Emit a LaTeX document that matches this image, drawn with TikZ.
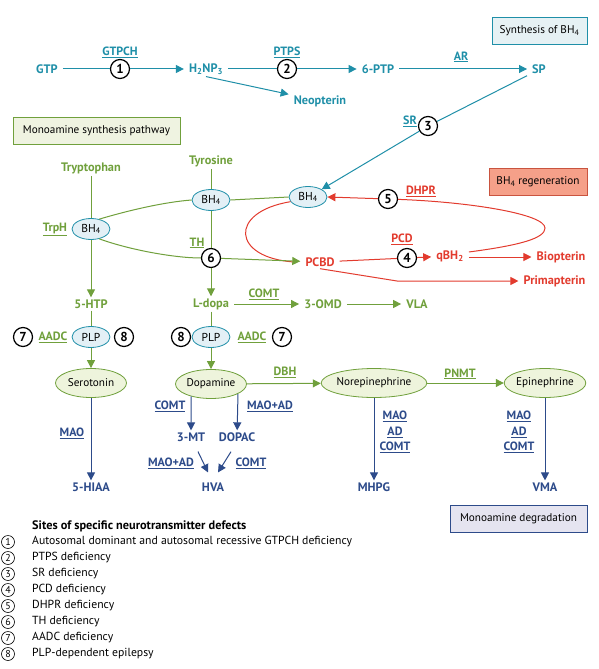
\documentclass[tikz,border=0pt]{standalone}
\usepackage{fontspec}
\setmainfont{PT Sans}
\usetikzlibrary{arrows.meta,shapes.geometric}

\definecolor{synteal}{HTML}{1F8FA8}
\definecolor{monogreen}{HTML}{70A03C}
\definecolor{regred}{HTML}{E23B2E}
\definecolor{degblue}{HTML}{2D4B8A}
\definecolor{cofill}{HTML}{E3F0F6}
\definecolor{aminefill}{HTML}{EEF4DC}
\definecolor{synbox}{HTML}{E6F1F4}
\definecolor{monobox}{HTML}{EFF3E1}
\definecolor{regbox}{HTML}{F5A089}
\definecolor{regedge}{HTML}{C9543F}
\definecolor{degbox}{HTML}{E5E4F0}

\tikzset{
  lbl/.style={font=\fontsize{12.3}{14}\selectfont\bfseries,inner xsep=5pt,inner ysep=2pt},
  enz/.style={font=\fontsize{12}{14}\selectfont\bfseries,inner sep=1pt,align=center},
  site/.style={circle,draw,fill=white,line width=1.2pt,inner sep=0pt,minimum size=19pt,
    font=\fontsize{13}{13}\selectfont\bfseries},
  legsite/.style={circle,draw,line width=0.6pt,inner sep=0pt,minimum size=13pt,
    font=\fontsize{10}{10}\selectfont},
  legtext/.style={anchor=west,inner sep=0pt,font=\fontsize{11.7}{13}\selectfont},
  cof/.style={ellipse,draw=synteal,fill=cofill,line width=0.8pt,inner sep=0pt,
    minimum width=38pt,minimum height=21pt,font=\fontsize{11.5}{13}\selectfont},
  amine/.style={ellipse,draw=monogreen,fill=aminefill,line width=0.8pt,inner sep=0pt,
    minimum height=29pt,font=\fontsize{11.2}{13}\selectfont},
  tag/.style={draw,line width=0.8pt,inner sep=0pt,minimum height=27pt,
    font=\fontsize{11.2}{13}\selectfont},
  arrowtip/.style={-{Triangle[length=8pt,width=8pt]}},
  syn/.style={synteal,line width=1pt},
  mono/.style={monogreen,line width=1pt},
  reg/.style={regred,line width=1pt},
  deg/.style={degblue,line width=1pt},
}

\begin{document}
\begin{tikzpicture}[x=1pt,y=-1pt]
\useasboundingbox (0,0) rectangle (598,669);

% synthesis of BH4
\node[tag,draw=synteal,fill=synbox,minimum width=95pt] (synbx) at (539.5,30.5) {Synthesis of BH\textsubscript{4}};
\node[lbl,text=synteal] (gtp) at (47,69) {GTP};
\node[lbl,text=synteal] (h2np3) at (206,69) {H\textsubscript{2}NP\textsubscript{3}};
\node[lbl,text=synteal] (ptp) at (378,69) {6-PTP};
\node[lbl,text=synteal] (sp) at (539,69) {SP};
\node[lbl,text=synteal] (neo) at (320,101) {Neopterin};
\node[site] (c1) at (120,69) {1};
\node[site] (c2) at (287,69) {2};
\node[site] (c3) at (428,126) {3};
\node[enz,text=synteal] (gtpch) at (120,52) {\underline{GTPCH}};
\node[enz,text=synteal] (ptps) at (287,52) {\underline{PTPS}};
\node[enz,text=synteal] (ar) at (461,57) {\underline{AR}};
\node[enz,text=synteal] (sr) at (410,121) {\underline{SR}};
\node[cof] (bhc) at (308,197) {BH\textsubscript{4}};
\draw[syn,arrowtip] (gtp) -- (c1) -- (h2np3);
\draw[syn,arrowtip] (h2np3) -- (c2) -- (ptp);
\draw[syn,arrowtip] (ptp) -- (sp);
\draw[syn,arrowtip] (h2np3.south) -- (neo);
\draw[syn,arrowtip] (sp.south west) -- (c3) -- (bhc.north east);

% monoamine synthesis
\node[tag,draw=monogreen,fill=monobox,minimum width=167pt] (monobx) at (96.5,130.5) {Monoamine synthesis pathway};
\node[lbl,text=monogreen] (trp) at (91,168) {Tryptophan};
\node[lbl,text=monogreen] (tyr) at (211,161) {Tyrosine};
\node[cof] (bhtrp) at (91,229) {BH\textsubscript{4}};
\node[cof] (bhtyr) at (211,200) {BH\textsubscript{4}};
\node[enz,text=monogreen] (trph) at (55,229) {\underline{TrpH}};
\node[enz,text=monogreen] (th) at (197,243) {\underline{TH}};
\node[site] (c6) at (211,258) {6};
\node[lbl,text=monogreen] (htp) at (91,304) {5-HTP};
\node[lbl,text=monogreen] (ldopa) at (211,304) {L-dopa};
\node[lbl,text=monogreen] (omd) at (323,304) {3-OMD};
\node[lbl,text=monogreen] (vla) at (417,304) {VLA};
\node[enz,text=monogreen] (comtg) at (264,294) {\underline{COMT}};
\node[cof] (plptrp) at (91,337) {PLP};
\node[cof] (plptyr) at (211,337) {PLP};
\node[site] (c7a) at (23,337) {7};
\node[enz,text=monogreen] (aadca) at (53,337) {\underline{AADC}};
\node[site] (c8a) at (124,337) {8};
\node[site] (c8b) at (181,337) {8};
\node[enz,text=monogreen] (aadcb) at (252,337) {\underline{AADC}};
\node[site] (c7b) at (282,337) {7};
\node[amine,minimum width=71pt] (ser) at (91,383) {Serotonin};
\node[amine,minimum width=71pt] (dopa) at (211,384) {Dopamine};
\node[amine,minimum width=91pt] (ne) at (374,383) {Norepinephrine};
\node[amine,minimum width=73pt] (epi) at (545,383) {Epinephrine};
\node[enz,text=monogreen] (dbh) at (285,372) {\underline{DBH}};
\node[enz,text=monogreen] (pnmt) at (460,374) {\underline{PNMT}};
\draw[mono] (trp) -- (bhtrp);
\draw[mono,arrowtip] (bhtrp) -- (htp);
\draw[mono] (htp) -- (plptrp);
\draw[mono,arrowtip] (plptrp) -- (ser);
\draw[mono] (tyr) -- (bhtyr);
\draw[mono] (bhtyr) -- (c6);
\draw[mono,arrowtip] (c6) -- (ldopa);
\draw[mono] (ldopa) -- (plptyr);
\draw[mono,arrowtip] (plptyr) -- (dopa);
\draw[mono,arrowtip] (ldopa) -- (omd);
\draw[mono,arrowtip] (omd) -- (vla);
\draw[mono,arrowtip] (dopa) -- (ne);
\draw[mono,arrowtip] (ne) -- (epi);
\draw[mono] (bhtrp.50) .. controls (130,210) and (165,202) .. (bhtyr.west);
\draw[mono] (bhtyr.east) -- (bhc.west);

% BH4 regeneration
\node[tag,draw=regedge,fill=regbox,minimum width=98pt] (regbx) at (538,181.5) {BH\textsubscript{4} regeneration};
\node[lbl,text=regred] (pcbd) at (320,262) {PCBD};
\node[lbl,text=regred] (qbh) at (450,256) {qBH\textsubscript{2}};
\node[lbl,text=regred] (biop) at (561,257) {Biopterin};
\node[lbl,text=regred] (prim) at (554.5,281) {Primapterin};
\node[site] (c4) at (407,258) {4};
\node[site] (c5) at (388,199) {5};
\node[enz,text=regred] (pcd) at (402,239) {\underline{PCD}};
\node[enz,text=regred] (dhpr) at (421,191) {\underline{DHPR}};
\coordinate (dhprbend) at (545,228);
\coordinate (primbend) at (397,281);
\draw[reg] (bhc.195) .. controls (228,212) and (232,258) .. ([xshift=-6pt]pcbd.west);
\draw[mono,arrowtip] (bhtrp.-50) .. controls (130,250) and (175,258) .. (c6) -- (pcbd);
\draw[reg,arrowtip] (pcbd) -- (c4) -- (qbh);
\draw[reg,arrowtip] ([yshift=-1pt]qbh.east) -- (biop);
\draw[reg,arrowtip] (pcbd.south) -- (primbend) -- (prim);
\draw[reg,arrowtip] ([yshift=4pt]qbh.east) .. controls (522,245) and (545,238) .. (dhprbend)
  .. controls (545,214) and (470,202) .. (c5) -- (bhc.east);

% monoamine degradation
\node[tag,draw=degblue,fill=degbox,minimum width=137pt] (degbx) at (518.5,519) {Monoamine degradation};
\node[lbl,text=degblue] (hiaa) at (91,487) {5-HIAA};
\node[lbl,text=degblue] (mt3) at (191,437) {3-MT};
\node[lbl,text=degblue] (dopac) at (237,437) {DOPAC};
\node[lbl,text=degblue] (hva) at (213,487) {HVA};
\node[lbl,text=degblue] (mhpg) at (374,487) {MHPG};
\node[lbl,text=degblue] (vma) at (545,487) {VMA};
\node[enz,text=degblue] (mao) at (72,433) {\underline{MAO}};
\node[enz,text=degblue] (comta) at (170,406) {\underline{COMT}};
\node[enz,text=degblue] (maoada) at (270,406) {\underline{MAO+AD}};
\node[enz,text=degblue] (maoadb) at (171,463) {\underline{MAO+AD}};
\node[enz,text=degblue] (comtb) at (251,463) {\underline{COMT}};
\node[enz,text=degblue,font=\fontsize{12}{15.5}\selectfont\bfseries] (nedeg) at (395,432) {\underline{MAO}\\\underline{AD}\\\underline{COMT}};
\node[enz,text=degblue,font=\fontsize{12}{15.5}\selectfont\bfseries] (epideg) at (519,432) {\underline{MAO}\\\underline{AD}\\\underline{COMT}};
\draw[deg,arrowtip] (ser) -- (hiaa);
\draw[deg,arrowtip] (dopa.-148) -- (mt3);
\draw[deg,arrowtip] (dopa.-20) -- (dopac);
\draw[deg,arrowtip] ([xshift=7pt,yshift=-8pt]mt3.south) -- ([xshift=-5pt,yshift=8pt]hva.north);
\draw[deg,arrowtip] ([xshift=-6pt,yshift=-8pt]dopac.south) -- ([xshift=5pt,yshift=8pt]hva.north);
\draw[deg,arrowtip] (ne) -- (mhpg);
\draw[deg,arrowtip] (epi) -- (vma);

% legend
\node[anchor=west,inner sep=0pt,font=\fontsize{12.3}{14}\selectfont\bfseries] (legtitle) at (32,526) {Sites of specific neurotransmitter defects};
\node[legsite] (l1) at (8,542) {1};
\node[legtext] (t1) at (32,542) {Autosomal dominant and autosomal recessive GTPCH deficiency};
\node[legsite] (l2) at (8,558) {2};
\node[legtext] (t2) at (32,558) {PTPS deficiency};
\node[legsite] (l3) at (8,574) {3};
\node[legtext] (t3) at (32,574) {SR deficiency};
\node[legsite] (l4) at (8,590) {4};
\node[legtext] (t4) at (32,590) {PCD deficiency};
\node[legsite] (l5) at (8,606) {5};
\node[legtext] (t5) at (32,606) {DHPR deficiency};
\node[legsite] (l6) at (8,622) {6};
\node[legtext] (t6) at (32,622) {TH deficiency};
\node[legsite] (l7) at (8,638) {7};
\node[legtext] (t7) at (32,638) {AADC deficiency};
\node[legsite] (l8) at (8,654) {8};
\node[legtext] (t8) at (32,654) {PLP-dependent epilepsy};
\end{tikzpicture}
\end{document}
